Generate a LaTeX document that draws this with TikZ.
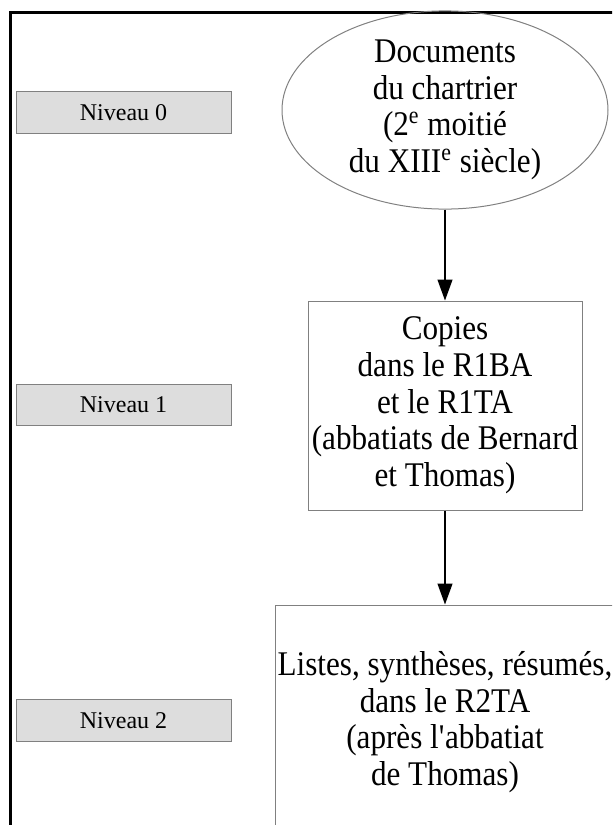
\documentclass[tikz,border=0pt]{standalone}
\usepackage{fontspec}
\setmainfont{Liberation Serif}
\newfontfamily\tallserif[FakeStretch=0.9]{Liberation Serif}
\usetikzlibrary{shapes.geometric,arrows.meta}

\definecolor{levelgray}{HTML}{DDDDDD}
\definecolor{edgegray}{HTML}{808080}

\begin{document}
\begin{tikzpicture}[
			x=0.5pt,
			y=-0.5pt,
			levelbox/.style={draw=edgegray, fill=levelgray, line width=0.5pt, minimum width=107.5pt, minimum height=20.75pt, inner sep=0pt, font=\fontsize{12}{14}\selectfont},
			docbox/.style={draw=edgegray, line width=0.5pt, align=center, inner sep=0pt, font=\tallserif\fontsize{17.3}{18.35}\selectfont},
			flow/.style={line width=0.6pt, -{Triangle[width=7.5pt,length=10.5pt]}}
		]
		\useasboundingbox (0,0) rectangle (612,825);
		\clip (0,0) rectangle (612,825);

		% frame
		\draw[line width=1.75pt] (10.5,830) -- (10.5,12.5) -- (620,12.5);

		% levels
		\node[levelbox] (niveau0) at (123.5,112.5) {Niveau 0};
		\node[levelbox] (niveau1) at (123.5,405) {Niveau 1};
		\node[levelbox] (niveau2) at (123.5,720.5) {Niveau 2};

		% documents
		\node[docbox, ellipse, minimum width=163pt, minimum height=90pt] (chartrier) at (445,110) {
			Documents\\
			du chartrier\\
			(2\textsuperscript{e} moitié\\
			du XIII\textsuperscript{e} siècle)
		};
		\node[docbox, minimum width=137pt, minimum height=104.5pt] (copies) at (445,405.5) {
			Copies\\
			dans le R1BA\\
			et le R1TA\\
			(abbatiats de Bernard\\
			et Thomas)
		};
		\node[docbox, minimum width=170pt, minimum height=117pt] (listes) at (445,722) {
			Listes, synthèses, résumés,\\
			dans le R2TA\\
			(après l\textquotesingle abbatiat\\
			de Thomas)
		};

		\draw[flow] (chartrier.south) -- (copies.north);
		\draw[flow] (copies.south) -- (listes.north);
	\end{tikzpicture}
\end{document}
